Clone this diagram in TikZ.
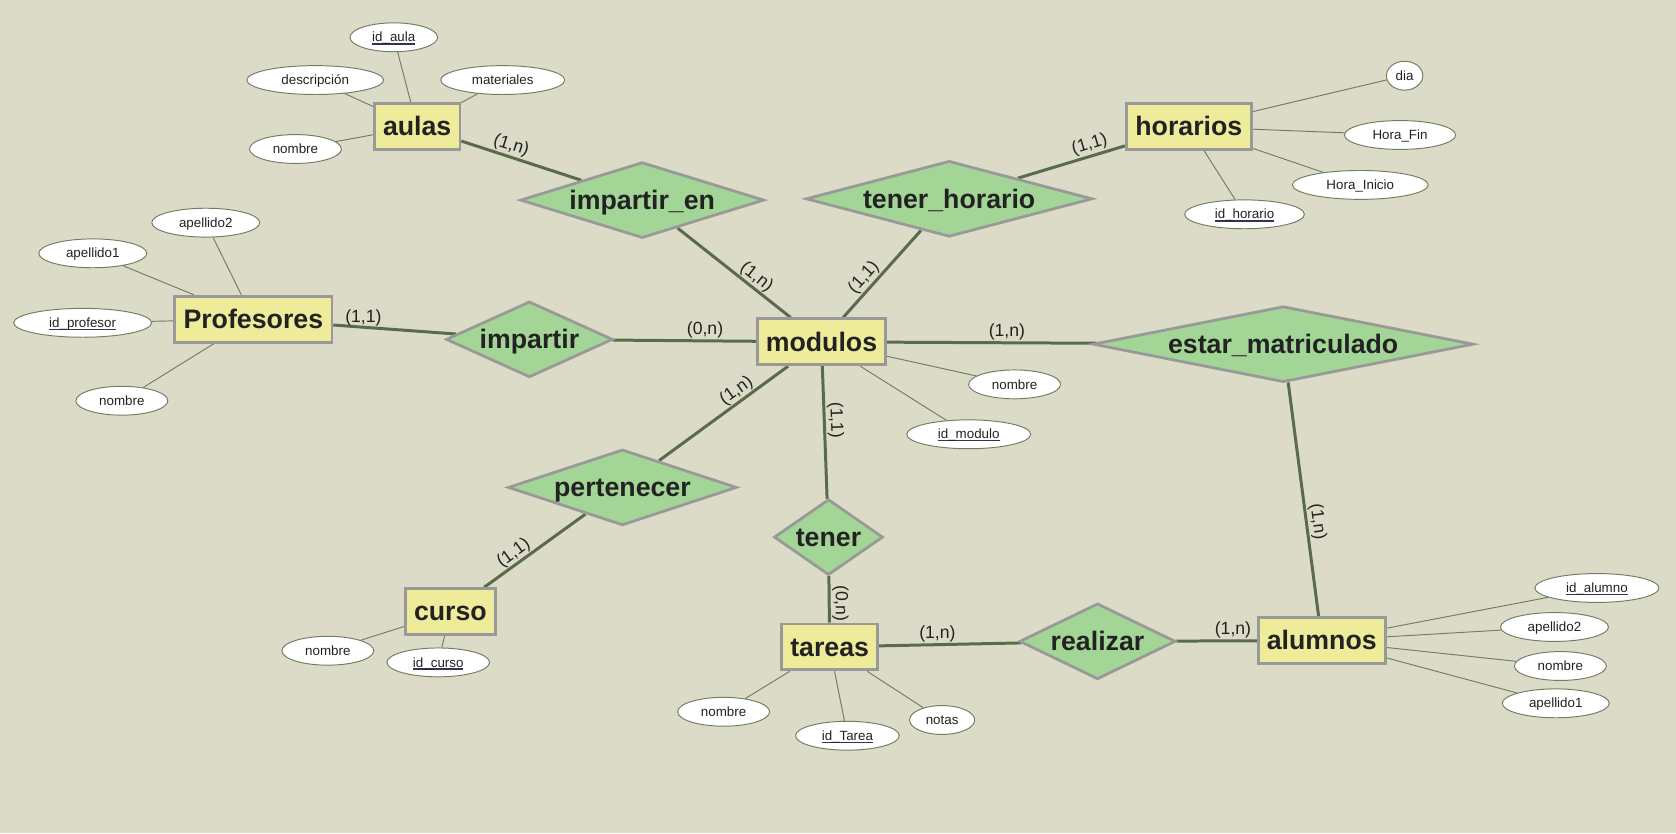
\documentclass[tikz,border=0pt]{standalone}
\usepackage{fontspec}
\setmainfont{Liberation Sans}
\usetikzlibrary{shapes.geometric,backgrounds}
\definecolor{bgc}{HTML}{DCDBC7}
\definecolor{entc}{HTML}{EEEC9A}
\definecolor{relc}{HTML}{A3D597}
\definecolor{bordc}{HTML}{999999}
\definecolor{linkc}{HTML}{5A6B4D}
\definecolor{attrl}{HTML}{6F7F62}
\definecolor{txtc}{HTML}{222222}
\definecolor{ulc}{HTML}{333355}
\newcommand\lbl[1]{\makebox[0pt]{\rule[-0.212em]{0pt}{1.117em}#1}}
\newcommand\keyu[1]{\setbox0\hbox{#1}\rlap{\color{ulc}\rule[-2.4pt]{\wd0}{1.3pt}}\box0}
\tikzset{
  entity/.style={rectangle, draw=bordc, line width=2.6pt, fill=entc, inner sep=0pt,
    minimum height=43pt, font=\fontsize{25}{25}\selectfont\bfseries, text=txtc},
  rel/.style={diamond, draw=bordc, line width=2.6pt, fill=relc, inner sep=0pt,
    minimum height=71pt, font=\fontsize{25}{25}\selectfont\bfseries, text=txtc},
  attr/.style={ellipse, draw=attrl, line width=0.9pt, fill=white, inner sep=0pt,
    minimum height=27pt, font=\fontsize{12.5}{12.5}\selectfont, text=txtc},
  link/.style={draw=linkc, line width=2.8pt},
  alink/.style={draw=attrl, line width=0.9pt},
  card/.style={inner sep=0pt, font=\fontsize{16.5}{16.5}\selectfont, text=txtc}
}
\begin{document}
\begin{tikzpicture}[x=1pt,y=-1pt]
\begin{scope}[on background layer]
\fill[bgc] (0,0) rectangle (1568,779.4);
\end{scope}
% entities
\node[entity, minimum width=80pt]  (aulas)    at (390.3,118.5) {\lbl{aulas}};
\node[entity, minimum width=147pt] (prof)     at (237,298.6)   {\lbl{Profesores}};
\node[entity, minimum width=117pt] (horarios) at (1112.2,118.5){\lbl{horarios}};
\node[entity, minimum width=120pt] (modulos)  at (768.5,319.8) {\lbl{modulos}};
\node[entity, minimum width=84pt]  (curso)    at (421.4,572.3) {\lbl{curso}};
\node[entity, minimum width=90pt]  (tareas)   at (776.2,605.2) {\lbl{tareas}};
\node[entity, minimum width=119pt] (alumnos)  at (1236.6,599.3){\lbl{alumnos}};
% relationships
\node[rel, minimum width=228pt] (impen)  at (600.8,187.2) {\lbl{impartir\_en}};
\node[rel, minimum width=268pt] (tenhor) at (888,186)     {\lbl{tener\_horario}};
\node[rel, minimum width=156pt] (imp)    at (495.3,317.5) {\lbl{impartir}};
\node[rel, minimum width=356pt] (estar)  at (1200.5,322)  {\lbl{estar\_matriculado}};
\node[rel, minimum width=214pt] (pert)   at (582.3,456)   {\lbl{pertenecer}};
\node[rel, minimum width=102pt] (tener)  at (775.1,502.5) {\lbl{tener}};
\node[rel, minimum width=146pt] (real)   at (1026.8,600)  {\lbl{realizar}};
% attributes
\node[attr, minimum width=82pt]  (idaula)  at (368.4,34.9)  {\lbl{\keyu{id\_aula}}};
\node[attr, minimum width=128pt] (adesc)   at (294.9,74.9)  {\lbl{descripción}};
\node[attr, minimum width=116pt] (amat)    at (470.3,74.9)  {\lbl{materiales}};
\node[attr, minimum width=86pt]  (anom)    at (276.4,139.4) {\lbl{nombre}};
\node[attr, minimum width=101pt] (pap2)    at (192.5,208.3) {\lbl{apellido2}};
\node[attr, minimum width=101pt] (pap1)    at (86.8,237)    {\lbl{apellido1}};
\node[attr, minimum width=129pt] (idprof)  at (77.3,302)    {\lbl{\keyu{id\_profesor}}};
\node[attr, minimum width=86pt]  (pnom)    at (114,374.9)   {\lbl{nombre}};
\node[attr, minimum width=34pt]  (hdia)    at (1314.1,70.8) {\lbl{dia}};
\node[attr, minimum width=104pt] (hfin)    at (1309.8,126.3){\lbl{Hora\_Fin}};
\node[attr, minimum width=127pt] (hini)    at (1272.6,173)  {\lbl{Hora\_Inicio}};
\node[attr, minimum width=112pt] (idhor)   at (1164.3,200.5){\lbl{\keyu{id\_horario}}};
\node[attr, minimum width=86pt]  (cnom)    at (306.7,608.8) {\lbl{nombre}};
\node[attr, minimum width=96pt]  (idcur)   at (410,619.7)   {\lbl{\keyu{id\_curso}}};
\node[attr, minimum width=116pt] (idalu)   at (1494,550.1)  {\lbl{\keyu{id\_alumno}}};
\node[attr, minimum width=101pt] (alap2)   at (1454.3,586.6){\lbl{apellido2}};
\node[attr, minimum width=86pt]  (alnom)   at (1459.8,623.1){\lbl{nombre}};
\node[attr, minimum width=100pt] (alap1)   at (1455.5,658)  {\lbl{apellido1}};
\node[attr, minimum width=86pt]  (mnom)    at (949.2,359.6) {\lbl{nombre}};
\node[attr, minimum width=116pt] (idmod)   at (906.3,406.3) {\lbl{\keyu{id\_modulo}}};
\node[attr, minimum width=86pt]  (tnom)    at (677,665.9)   {\lbl{nombre}};
\node[attr, minimum width=97pt]  (idtar)   at (792.8,688.3) {\lbl{\keyu{id\_Tarea}}};
\node[attr, minimum width=61pt]  (tnot)    at (881.4,673.6) {\lbl{notas}};
% cardinalities
\node[card, rotate=-18]   (c1)  at (478.7,134.7) {\lbl{(1,n)}};
\node[card]               (c2)  at (340,295.6)   {\lbl{(1,1)}};
\node[card, rotate=17]    (c3)  at (1019,134)    {\lbl{(1,1)}};
\node[card, rotate=-38]   (c4)  at (708.6,258)   {\lbl{(1,n)}};
\node[card, rotate=48]    (c5)  at (807.2,258.8) {\lbl{(1,1)}};
\node[card]               (c6)  at (659.6,307.2) {\lbl{(0,n)}};
\node[card]               (c7)  at (942,308.7)   {\lbl{(1,n)}};
\node[card, rotate=36]    (c8)  at (688.2,364.7) {\lbl{(1,n)}};
\node[card, rotate=-88]   (c9)  at (783.1,393)   {\lbl{(1,1)}};
\node[card, rotate=-90]   (c10) at (787.7,564.5) {\lbl{(0,n)}};
\node[card, rotate=36]    (c11) at (479.8,516.6) {\lbl{(1,1)}};
\node[card]               (c12) at (877,591.8)   {\lbl{(1,n)}};
\node[card]               (c13) at (1153.5,587.6){\lbl{(1,n)}};
\node[card, rotate=-82.6] (c14) at (1234,487.8)  {\lbl{(1,n)}};
\begin{scope}[on background layer]
% relationship links
\draw[link] (aulas) -- (impen);
\draw[link] (impen) -- (modulos);
\draw[link] (horarios) -- (tenhor);
\draw[link] (tenhor) -- (modulos);
\draw[link] (prof) -- (imp);
\draw[link] (imp) -- (modulos);
\draw[link] (modulos) -- (estar);
\draw[link] (estar) -- (alumnos);
\draw[link] (modulos) -- (pert);
\draw[link] (pert) -- (curso);
\draw[link] (modulos) -- (tener);
\draw[link] (tener) -- (tareas);
\draw[link] (tareas) -- (real);
\draw[link] (real) -- (alumnos);
% attribute links
\draw[alink] (aulas) -- (idaula);
\draw[alink] (aulas) -- (adesc);
\draw[alink] (aulas) -- (amat);
\draw[alink] (aulas) -- (anom);
\draw[alink] (prof) -- (pap2);
\draw[alink] (prof) -- (pap1);
\draw[alink] (prof) -- (idprof);
\draw[alink] (prof) -- (pnom);
\draw[alink] (horarios) -- (hdia);
\draw[alink] (horarios) -- (hfin);
\draw[alink] (horarios) -- (hini);
\draw[alink] (horarios) -- (idhor);
\draw[alink] (curso) -- (cnom);
\draw[alink] (curso) -- (idcur);
\draw[alink] (alumnos) -- (idalu);
\draw[alink] (alumnos) -- (alap2);
\draw[alink] (alumnos) -- (alnom);
\draw[alink] (alumnos) -- (alap1);
\draw[alink] (modulos) -- (mnom);
\draw[alink] (modulos) -- (idmod);
\draw[alink] (tareas) -- (tnom);
\draw[alink] (tareas) -- (idtar);
\draw[alink] (tareas) -- (tnot);
\end{scope}
\end{tikzpicture}
\end{document}
